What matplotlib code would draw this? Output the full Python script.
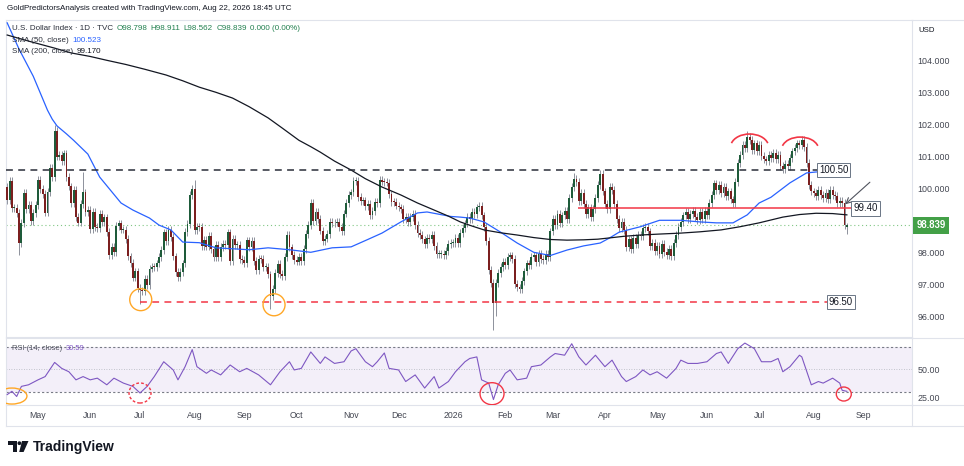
import numpy as np
import pandas as pd
import matplotlib
matplotlib.use('Agg')
import matplotlib.pyplot as plt
from matplotlib.patches import Ellipse, Arc, Polygon, Circle
from matplotlib.lines import Line2D
from matplotlib.transforms import IdentityTransform, Affine2D

plt.rcParams['font.family'] = ['Liberation Sans', 'DejaVu Sans']

W, H = 964, 466

# ---- daily closes, U.S. Dollar Index (TVC) ----
apr25 = [99.64, 100.22, 99.38, 99.38, 99.23, 98.28, 98.92, 99.85, 99.35, 99.47, 98.98, 99.22, 99.47]
may25 = [100.25, 99.97, 99.83, 99.24, 99.88, 100.64, 100.35, 101.79, 100.99, 101.04, 100.84, 101.09,
         100.36, 100.06, 99.54, 99.94, 99.11, 98.93, 99.52, 99.87, 99.27, 99.33]
jun25 = [98.72, 99.25, 98.80, 98.75, 99.19, 98.94, 99.09, 98.64, 97.92, 98.18, 98.02, 98.83, 98.90,
         98.71, 98.71, 98.42, 97.87, 97.67, 97.21, 97.40, 96.88]
jul25 = [96.81, 96.78, 97.18, 96.97, 97.49, 97.55, 97.53, 97.65, 97.85, 98.08, 98.62, 98.36, 98.70,
         98.48, 97.87, 97.39, 97.22, 97.38, 97.65, 98.63, 98.88, 99.80, 99.97]
aug25 = [98.69, 98.79, 98.78, 98.19, 98.38, 98.18, 98.52, 98.09, 97.84, 98.24, 97.85, 98.17, 98.27,
         98.23, 98.62, 97.72, 98.43, 98.22, 98.22, 97.80, 97.77]
sep25 = [97.67, 98.37, 98.15, 98.35, 97.73, 97.44, 97.80, 97.79, 97.53, 97.55, 97.31, 96.64, 96.86,
         97.35, 97.64, 97.33, 97.25, 97.86, 98.55, 98.15, 97.92, 97.77]
oct25 = [97.71, 97.85, 97.72, 98.11, 98.58, 98.86, 99.53, 98.98, 99.27, 99.04, 98.68, 98.35, 98.43,
         98.58, 98.95, 98.90, 98.93, 98.95, 98.78, 98.67, 99.21, 99.53, 99.80]
nov25 = [99.87, 100.22, 100.22, 99.72, 99.60, 99.62, 99.44, 99.50, 99.15, 99.30, 99.57, 99.54, 100.25,
         100.21, 100.19, 100.18, 99.81, 99.58, 99.57, 99.46]
dec25 = [99.40, 99.35, 99.05, 99.10, 98.95, 99.10, 99.20, 98.85, 98.60, 98.55, 98.40, 98.25, 98.45,
         98.40, 98.55, 98.20, 97.95, 97.95, 97.95, 97.90, 98.05, 98.25, 98.30]
jan26 = [98.30, 98.45, 98.30, 98.60, 98.75, 98.90, 99.10, 99.05, 99.25, 99.20, 99.40, 99.45, 99.15,
         98.80, 98.35, 97.45, 97.05, 96.40, 97.05, 97.35, 97.55, 97.70]
feb26 = [97.60, 97.85, 97.90, 97.80, 97.00, 96.90, 96.85, 97.10, 97.40, 97.65, 97.60, 97.85, 97.90,
         97.70, 97.95, 97.80, 97.75, 97.95, 97.85, 98.65]
mar26 = [99.05, 98.85, 99.20, 98.90, 99.15, 99.30, 99.05, 99.70, 100.05, 100.30, 100.20, 99.60, 99.85,
         99.50, 99.20, 99.40, 99.10, 99.35, 99.70, 100.10, 100.45, 99.90]
apr26 = [99.50, 99.35, 100.05, 99.95, 99.50, 99.05, 98.75, 98.95, 98.70, 98.15, 98.40, 98.10, 98.45,
         98.25, 98.55, 98.50, 98.75, 98.80, 98.65, 98.20, 98.30, 98.05]
may26 = [98.20, 97.95, 98.25, 98.00, 97.90, 98.10, 97.88, 98.30, 98.55, 98.80, 98.95, 99.15, 99.25,
         99.05, 99.20, 99.30, 99.10, 99.00, 99.25, 99.05, 99.30]
jun26 = [99.15, 99.55, 99.80, 100.15, 99.95, 100.10, 99.85, 100.05, 99.75, 99.90, 99.65, 99.55, 100.20,
         100.80, 101.05, 101.35, 101.25, 101.60, 101.50, 101.20, 101.40, 101.15]
jul26 = [101.35, 101.00, 100.90, 100.85, 101.05, 100.95, 101.10, 100.90, 101.05, 100.70, 100.60, 100.75,
         100.70, 100.95, 101.15, 101.25, 101.40, 101.35, 101.50, 101.30, 100.80, 100.10, 99.90]
aug26 = [99.85, 99.75, 99.95, 99.80, 99.70, 99.85, 99.65, 99.95, 99.80, 99.75, 99.55, 99.60, 99.55,
         98.84, 98.839]

first_open = 100.05
last_ohlc = (98.798, 98.911, 98.562, 98.839)
# bars whose wicks stick out further than usual
high_fix = {20: 101.98, 32: 100.50, 78: 100.10, 79: 100.25, 239: 100.48, 250: 100.57,
            312: 101.79, 335: 101.62}
low_fix = {5: 97.92, 56: 96.37, 111: 96.22, 205: 95.57, 206: 96.00, 353: 98.72}

# moving averages (bar index, value)
sma50_at = [0, 5, 11, 17, 19, 21, 25, 28, 34, 39, 48, 53, 60, 64, 69, 74, 81, 88, 102, 110, 119, 128,
            137, 145, 152, 158, 166, 173, 177, 187, 191, 195, 201, 208, 215, 222, 229, 236, 243, 250,
            254, 258, 267, 275, 284, 292, 299, 306, 312, 317, 322, 330, 337, 341, 354]
sma50 = [105.17, 104.35, 103.50, 102.44, 102.16, 101.95, 101.70, 101.50, 101.07, 100.35, 99.54, 99.32,
         99.07, 98.85, 98.70, 98.32, 98.30, 98.14, 98.08, 98.14, 98.08, 98.00, 98.14, 98.17, 98.40,
         98.60, 98.95, 99.23, 99.26, 99.12, 99.10, 99.07, 98.95, 98.63, 98.29, 98.00, 97.90, 98.07,
         98.20, 98.29, 98.45, 98.63, 98.80, 99.00, 99.00, 98.95, 98.92, 98.92, 99.17, 99.54, 99.72,
         100.17, 100.48, 100.51, 100.523]
sma200_at = [0, 10, 20, 27, 35, 42, 50, 58, 67, 74, 81, 88, 95, 102, 110, 116, 123, 128, 132, 138,
             145, 151, 158, 166, 173, 180, 186, 191, 196, 201, 208, 215, 222, 229, 236, 243, 249,
             254, 260, 267, 275, 284, 292, 301, 309, 317, 322, 327, 334, 341, 348, 354]
sma200 = [104.79, 104.58, 104.38, 104.23, 104.12, 104.00, 103.87, 103.72, 103.54, 103.36, 103.16,
          103.00, 102.82, 102.55, 102.20, 101.88, 101.50, 101.30, 101.13, 100.85, 100.57, 100.30,
          100.04, 99.79, 99.54, 99.32, 99.13, 98.95, 98.82, 98.70, 98.61, 98.54, 98.46, 98.40, 98.38,
          98.39, 98.41, 98.45, 98.50, 98.54, 98.57, 98.60, 98.64, 98.70, 98.80, 98.92, 99.01, 99.10,
          99.18, 99.22, 99.21, 99.17]

# RSI(14) (bar index, value)
rsi_at = [0, 2, 4, 6, 9, 13, 16, 20, 23, 26, 29, 32, 35, 38, 42, 45, 49, 53, 56, 59, 62, 66, 70, 72,
          75, 78, 80, 84, 86, 90, 94, 98, 101, 106, 111, 115, 119, 121, 124, 128, 132, 134, 138, 142,
          145, 147, 151, 154, 156, 159, 161, 165, 168, 172, 176, 180, 182, 186, 189, 193, 195, 198,
          200, 203, 205, 207, 210, 212, 215, 219, 221, 225, 229, 231, 235, 238, 241, 244, 248, 252,
          255, 259, 261, 265, 268, 271, 274, 278, 282, 284, 287, 291, 295, 299, 301, 304, 308, 311,
          315, 318, 322, 325, 327, 330, 334, 335, 339, 342, 344, 348, 351, 352, 354]
rsi = [27.7, 30.6, 26.0, 35.0, 36.4, 40.8, 43.7, 56.3, 51.0, 48.0, 40.8, 43.7, 40.8, 42.3, 36.4, 42.3,
       37.9, 35.0, 29.1, 35.0, 43.7, 56.9, 49.6, 40.8, 52.5, 67.7, 52.5, 46.6, 49.6, 45.2, 54.0, 48.0,
       51.0, 45.2, 36.4, 48.0, 56.9, 49.6, 51.0, 65.6, 55.4, 61.2, 55.4, 56.9, 66.5, 68.5, 56.9, 52.5,
       56.9, 64.7, 51.0, 49.6, 39.3, 45.2, 33.5, 43.7, 33.5, 39.3, 48.0, 56.9, 59.8, 61.2, 40.8, 37.9,
       23.3, 36.4, 46.6, 49.6, 40.8, 42.3, 52.5, 54.0, 61.2, 64.2, 62.7, 72.9, 61.2, 54.0, 62.7, 52.5,
       58.3, 43.7, 39.3, 43.7, 49.6, 45.2, 48.0, 42.3, 51.0, 58.3, 55.4, 55.4, 56.9, 64.2, 65.6, 55.4,
       68.5, 73.5, 68.5, 56.9, 56.9, 59.8, 48.0, 52.5, 62.7, 61.2, 36.4, 39.3, 37.9, 42.3, 37.9, 31.5, 30.59]

# drawn levels: (price, label, first bar, last bar, colour, style)
levels = [(100.58, '100.50', -0.5, 341.8, '#2a2e39', (0, (4.5, 3.5))),
          (99.37, '99.40', 240.6, 356.2, '#f23645', '-'),
          (96.45, '96.50', 56.0, 346.0, '#f23645', (0, (4.5, 3.5)))]

closes = np.array(apr25 + may25 + jun25 + jul25 + aug25 + sep25 + oct25 + nov25 + dec25 +
                  jan26 + feb26 + mar26 + apr26 + may26 + jun26 + jul26 + aug26)
dates = pd.bdate_range('2025-04-14', '2026-08-21')
assert len(dates) == len(closes), (len(dates), len(closes))
n = len(closes)
idx = np.arange(n)

opens = np.r_[first_open, closes[:-1]]
opens[-1] = last_ohlc[0]
wick = 0.12
highs = np.maximum(opens, closes) + wick
lows = np.minimum(opens, closes) - wick
for k, v in high_fix.items():
    highs[k] = v
for k, v in low_fix.items():
    lows[k] = v
highs[-1], lows[-1] = last_ohlc[1], last_ohlc[2]

# ---- figure ----
fig = plt.figure(figsize=(W / 100, H / 100), dpi=100)
fig.patch.set_facecolor('white')


def fy(y):
    return 1 - y / H


PX = 2.372  # pixels per bar
ax = fig.add_axes([6 / W, fy(337), 906 / W, 317 / H])
ax2 = fig.add_axes([6 / W, fy(405), 906 / W, 67 / H])
xlim = (-0.5, -0.5 + 906 / PX)
for a in (ax, ax2):
    a.set_xlim(*xlim)
    a.set_facecolor('white')
    for s in a.spines.values():
        s.set_color('#e0e3eb')
        s.set_linewidth(0.8)
ax.set_ylim(100 - 148.7 / 32, 100 + 168.3 / 32)
ax2.set_ylim(18.44, 78)

grid_c = '#e0e3eb'
up_c, dn_c = '#1e5b3a', '#7b1f1f'
cols = np.where(closes >= opens, up_c, dn_c)
ax.vlines(idx, lows, highs, color='#8d919b', lw=0.7, zorder=2)
ax.bar(idx, np.maximum(np.abs(closes - opens), 0.03), bottom=np.minimum(opens, closes),
       width=0.8, color=cols, linewidth=0, zorder=3)

ax.plot(sma50_at, sma50, color='#2962ff', lw=0.9, zorder=4)
ax.plot(sma200_at, sma200, color='#131722', lw=0.9, zorder=4)

# last price
last = closes[-1]
ax.axhline(last, color='#4caf50', lw=0.8, ls=(0, (1, 2.5)), alpha=0.7, zorder=1)

for price, lab, x0, x1, c, ls in levels:
    ax.hlines(price, x0, x1, color=c, lw=1.1, linestyles=[ls], zorder=5)
    ax.text(x1 + 0.4, price, lab, fontsize=6.9, color='#131722', ha='left', va='center', zorder=7,
            bbox=dict(boxstyle='square,pad=0.22', fc='white', ec='#6a7585', lw=0.7))

ax.annotate('', xy=(353.3, 99.50), xytext=(363.7, 100.19),
            arrowprops=dict(arrowstyle='->', color='#50535e', lw=0.8, shrinkA=0, shrinkB=0), zorder=6)


def ring(a, xd, yd, w, h, color, ls='-', lw=1.0):
    cx, cy = a.transData.transform((xd, yd))
    a.add_patch(Ellipse((cx, cy), w, h, fill=False, ec=color, lw=lw, ls=ls,
                        transform=IdentityTransform(), zorder=6))


def cap(a, xd, yd, w, h, color, lw=1.2):
    cx, cy = a.transData.transform((xd, yd))
    a.add_patch(Arc((cx, cy), w, h, theta1=12, theta2=168, ec=color, lw=lw,
                    transform=IdentityTransform(), zorder=6))


ring(ax, 56.3, 96.52, 22, 22, '#ffa726')
ring(ax, 112.5, 96.36, 22, 22, '#ffa726')
cap(ax, 313, 101.29, 38, 26, '#f23645')
cap(ax, 334.3, 101.21, 37, 25, '#f23645')

# price scale
ticks = np.arange(96, 105)
ax.yaxis.tick_right()
ax.set_yticks(ticks)
ax.set_yticklabels([f'{t:.3f}' for t in ticks])
ax.tick_params(axis='y', length=0, pad=3.8, labelsize=6.4, labelcolor='#434651')
ax.tick_params(axis='x', length=0, labelbottom=False)
ax.annotate(f'{last:.3f}', xy=(1, last), xycoords=('axes fraction', 'data'), xytext=(3.0, 0),
            textcoords='offset points', ha='left', va='center', fontsize=6.9, color='white',
            fontweight='bold', annotation_clip=False, zorder=8,
            bbox=dict(boxstyle='square,pad=0.36', fc='#43a047', ec='none'))

# RSI pane
ax2.axhspan(30, 70, color='#7e57c2', alpha=0.09, lw=0)
ax2.axhline(70, color='#787b86', lw=0.8, ls=(0, (2, 2)))
ax2.axhline(30, color='#787b86', lw=0.8, ls=(0, (2, 2)))
ax2.axhline(50, color='#b2b5be', lw=0.6, ls=(0, (1, 2)))
ax2.plot(rsi_at, rsi, color='#7e57c2', lw=0.8, zorder=4)
ring(ax2, 2, 26.4, 30, 16, '#ffa726')
ring(ax2, 56, 29.1, 22, 20, '#f23645', ls=(0, (2, 1.5)))
ring(ax2, 204.4, 28.5, 24, 22, '#f23645')
ring(ax2, 352.7, 28.2, 15, 14, '#f23645')
ax2.yaxis.tick_right()
ax2.set_yticks([25, 50])
ax2.set_yticklabels(['25.00', '50.00'])
ax2.tick_params(axis='y', length=0, pad=3.8, labelsize=6.4, labelcolor='#434651')

# time scale
allday = pd.bdate_range('2025-04-14', '2026-09-30')
mstart = pd.Series(np.arange(len(allday)), index=allday).groupby([allday.year, allday.month]).first()
tpos, tlab = [], []
for (yr, mo), p in mstart.items():
    if p == 0:
        continue
    tpos.append(p)
    tlab.append(str(yr) if mo == 1 else pd.Timestamp(yr, mo, 1).strftime('%b'))
ax2.set_xticks(tpos)
ax2.set_xticklabels(tlab)
ax2.tick_params(axis='x', length=0, pad=4.2, labelsize=6.3, labelcolor='#434651')
ax2.set_xlim(*xlim)


# frame around scales
def pline(x0, y0, x1, y1, c=grid_c, lw=0.8):
    fig.add_artist(Line2D([x0 / W, x1 / W], [fy(y0), fy(y1)], color=c, lw=lw))


pline(912, 20, 964, 20)
pline(912, 337.5, 964, 337.5)
pline(912, 405, 964, 405)
pline(6, 426, 964, 426)
pline(6, 405, 6, 426)
pline(912, 405, 912, 426)

# header and legends
rend = fig.canvas.get_renderer()


def run(x, y, parts, size):
    for s, c in parts:
        t = fig.text(x / W, fy(y), s, color=c, fontsize=size, ha='left', va='center')
        x += t.get_window_extent(renderer=rend).width + size * 0.55


fig.text(7 / W, fy(8), 'GoldPredictorsAnalysis created with TradingView.com, Aug 22, 2026 18:45 UTC',
         fontsize=5.8, color='#131722', ha='left', va='center')
g = '#22804f'
run(12.5, 28, [('U.S. Dollar Index · 1D · TVC', '#2a2e39'), ('O98.798', g), ('H98.911', g),
               ('L98.562', g), ('C98.839', g), ('0.000 (0.00%)', g)], 5.75)
run(12.5, 40, [('SMA (50, close)', '#2a2e39'), ('100.523', '#2962ff')], 5.75)
run(12.5, 51.5, [('SMA (200, close)', '#2a2e39'), ('99.170', '#131722')], 5.75)
run(12.5, 348, [('RSI (14, close)', '#50535e'), ('30.59', '#7e57c2')], 5.4)
fig.text(918 / W, fy(30), 'USD', fontsize=5.6, color='#131722', ha='left', va='center')

# TradingView mark
pix = Affine2D().scale(1, -1).translate(0, H)
logo_c = '#131722'
fig.add_artist(Polygon([(8, 441), (16.5, 441), (16.5, 452), (12.5, 452), (12.5, 445), (8, 445)],
                       closed=True, fc=logo_c, ec='none', transform=pix))
fig.add_artist(Circle((19.4, 443.2), 1.9, fc=logo_c, ec='none', transform=pix))
fig.add_artist(Polygon([(22, 441), (28.5, 441), (23.6, 452), (19.2, 452)],
                       closed=True, fc=logo_c, ec='none', transform=pix))
fig.text(33 / W, fy(447.5), 'TradingView', fontsize=10, fontweight='bold', color=logo_c,
         ha='left', va='center')

fig.savefig('out.png', dpi=100, facecolor='white')
